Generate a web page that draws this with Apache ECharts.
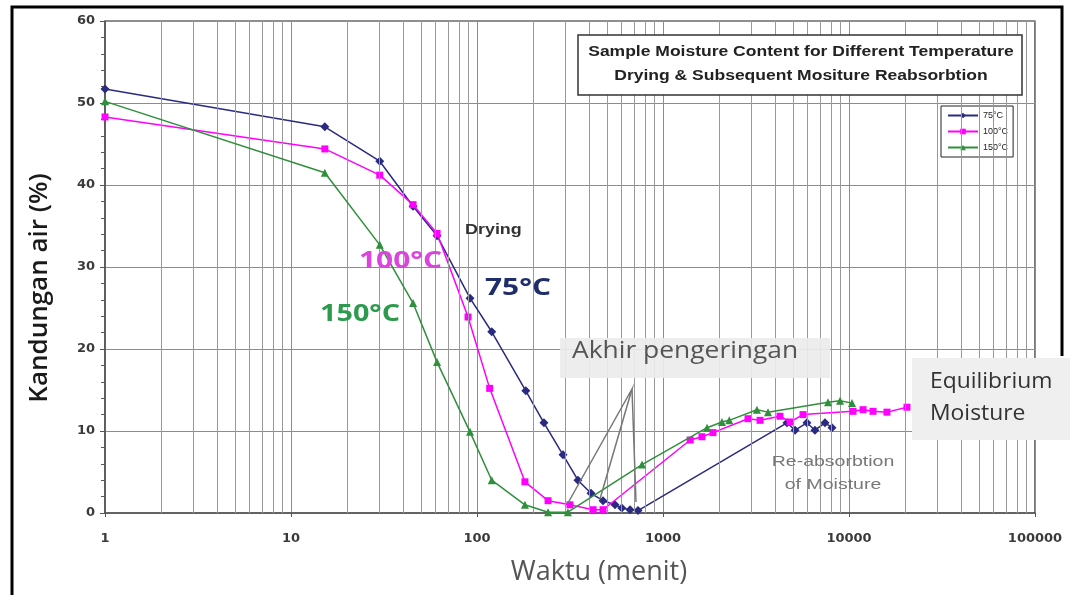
<!DOCTYPE html>
<html>
<head>
<meta charset="utf-8">
<script src="https://cdn.jsdelivr.net/npm/echarts@6/dist/echarts.min.js"></script>
<style>
  html, body { margin: 0; padding: 0; background: #fff; }
  #chart { width: 1070px; height: 595px; }
</style>
</head>
<body>
<div id="chart"></div>
<script>
// waktu (menit) dan kandungan air (%)
const waktu75 = [1, 15.2, 30, 45.3, 61, 91.7, 120, 183, 229, 290, 349, 410, 476, 552, 600, 665, 734, 4640, 5130, 5940, 6560, 7430, 8100]
const air75 = [51.7, 47.1, 42.9, 37.4, 33.8, 26.2, 22.1, 14.9, 11.0, 7.1, 4.0, 2.4, 1.5, 1.0, 0.6, 0.4, 0.3, 11.0, 10.1, 11.0, 10.1, 11.0, 10.4]

const waktu100 = [1, 15.2, 30, 45.3, 61, 89.5, 117, 181, 241, 316, 421, 476, 1400, 1620, 1857, 2865, 3325, 4256, 4818, 5660, 10510, 11900, 13460, 16000, 20500]
const air100 = [48.3, 44.4, 41.2, 37.6, 34.1, 23.9, 15.2, 3.8, 1.5, 1.0, 0.4, 0.4, 8.9, 9.3, 9.8, 11.5, 11.3, 11.8, 11.1, 12.0, 12.4, 12.6, 12.4, 12.3, 12.9]

const waktu150 = [1, 15.2, 30, 45.3, 61, 91.7, 120, 181, 241, 308, 771, 1725, 2075, 2270, 3200, 3670, 7710, 8950, 10380]
const air150 = [50.2, 41.5, 32.7, 25.6, 18.4, 9.9, 4.0, 1.0, 0.1, 0.1, 5.9, 10.4, 11.1, 11.3, 12.6, 12.3, 13.5, 13.7, 13.4]

const seriesNames = ['75°C', '100°C', '150°C']
const seriesColors = ['#2a2a80', '#ff00ff', '#2f8f3a']

// garis bantu minor sumbu log (2..9 tiap dekade)
const minorTicks = []
for (let d = 1; d < 100000; d *= 10) {
  for (let k = 2; k <= 9; k++) {
    minorTicks.push(k * d)
  }
}

const pair = (xs, ys) => xs.map((x, i) => [x, ys[i]])

let chart = echarts.init(document.getElementById('chart'))

const fontAxis = 'DejaVu Sans, sans-serif'
const fontArial = 'Liberation Sans, Arial, sans-serif'
const fontNote = 'Open Sans, Noto Sans, sans-serif'

let option = {
  animation: false,
  grid: {
    left: 105,
    right: 35,
    top: 21,
    bottom: 82,
    show: true,
    borderColor: '#222',
    borderWidth: 1.2
  },
  legend: {
    data: seriesNames,
    orient: 'vertical',
    left: 941,
    top: 106,
    itemWidth: 30,
    itemHeight: 7,
    itemGap: 7,
    padding: [5, 5, 5, 6],
    backgroundColor: '#fff',
    borderColor: '#222',
    borderWidth: 1,
    textStyle: { fontSize: 9, color: '#222', fontFamily: fontArial }
  },
  xAxis: {
    type: 'log',
    logBase: 10,
    min: 1,
    max: 100000,
    axisLine: { lineStyle: { color: '#555', width: 1.5 } },
    axisTick: { show: true, length: 4, lineStyle: { color: '#555' } },
    axisLabel: {
      margin: 19,
      fontSize: 13,
      fontWeight: 'bold',
      color: '#3a3a3a',
      fontFamily: fontAxis,
      formatter: (v) => String(Math.round(v))
    },
    splitLine: { show: true, lineStyle: { color: '#8c8c8c', width: 1 } }
  },
  yAxis: {
    type: 'value',
    min: 0,
    max: 60,
    interval: 10,
    axisLine: { show: true, lineStyle: { color: '#555', width: 1.5 } },
    axisTick: { show: true, length: 5, lineStyle: { color: '#555' } },
    minorTick: { show: true, splitNumber: 5, length: 4, lineStyle: { color: '#555' } },
    axisLabel: {
      margin: 10,
      fontSize: 13,
      fontWeight: 'bold',
      color: '#3a3a3a',
      fontFamily: fontAxis
    },
    splitLine: { show: true, lineStyle: { color: '#8c8c8c', width: 1 } }
  },
  series: [
    {
      // hanya garis grid minor
      type: 'line',
      data: [],
      silent: true,
      z: 1,
      markLine: {
        silent: true,
        symbol: 'none',
        label: { show: false },
        lineStyle: { color: '#999', width: 1, type: 'solid' },
        data: minorTicks.map(v => ({ xAxis: v }))
      }
    },
    {
      name: seriesNames[0],
      type: 'line',
      data: pair(waktu75, air75),
      symbol: 'diamond',
      symbolSize: 9,
      color: seriesColors[0],
      lineStyle: { width: 1.5 },
      z: 3
    },
    {
      name: seriesNames[1],
      type: 'line',
      data: pair(waktu100, air100),
      symbol: 'rect',
      symbolSize: 7,
      color: seriesColors[1],
      lineStyle: { width: 1.5 },
      z: 4
    },
    {
      name: seriesNames[2],
      type: 'line',
      data: pair(waktu150, air150),
      symbol: 'triangle',
      symbolSize: 8,
      color: seriesColors[2],
      lineStyle: { width: 1.5 },
      z: 5
    }
  ],
  graphic: [
    // bingkai luar gambar
    {
      type: 'polyline',
      shape: { points: [[12, 595], [12, 7], [1062, 7], [1062, 356]] },
      style: { stroke: '#000', lineWidth: 3, fill: null },
      z: 100
    },
    // nama sumbu
    {
      type: 'text', x: 40, y: 288, rotation: Math.PI / 2,
      style: {
        text: 'Kandungan air (%)', fontSize: 26, fontWeight: 600, fontFamily: fontNote,
        fill: '#1a1a1a', align: 'center', verticalAlign: 'middle'
      },
      z: 60
    },
    {
      type: 'text', x: 599, y: 572,
      style: {
        text: 'Waktu (menit)', fontSize: 27, fontFamily: fontNote,
        fill: '#555', align: 'center', verticalAlign: 'middle'
      },
      z: 60
    },
    // kotak judul
    {
      type: 'rect',
      shape: { x: 578, y: 35, width: 444, height: 60 },
      style: { fill: '#fff', stroke: '#333', lineWidth: 1.5 },
      z: 50
    },
    {
      type: 'text',
      x: 801,
      y: 40,
      scaleX: 1.25,
      style: {
        text: 'Sample Moisture Content for Different Temperature\nDrying & Subsequent Mositure Reabsorbtion',
        fontSize: 14,
        fontWeight: 'bold',
        fontFamily: fontArial,
        fill: '#222',
        align: 'center',
        lineHeight: 24
      },
      z: 51
    },
    {
      type: 'text', x: 465, y: 223, scaleX: 1.28,
      style: { text: 'Drying', fontSize: 14, fontWeight: 'bold', fontFamily: fontArial, fill: '#333' },
      z: 60
    },
    {
      type: 'text', x: 359, y: 250, scaleX: 1.3,
      style: { text: '100°C', fontSize: 23, fontWeight: 'bold', fontFamily: fontNote, fill: '#dd44dd' },
      z: 60
    },
    {
      type: 'text', x: 485, y: 277, scaleX: 1.3,
      style: { text: '75°C', fontSize: 23, fontWeight: 'bold', fontFamily: fontNote, fill: '#1f2d6b' },
      z: 60
    },
    {
      type: 'text', x: 320, y: 303, scaleX: 1.25,
      style: { text: '150°C', fontSize: 23, fontWeight: 'bold', fontFamily: fontNote, fill: '#2e9a4e' },
      z: 60
    },
    // Akhir pengeringan
    {
      type: 'rect',
      shape: { x: 560, y: 338, width: 270, height: 40 },
      style: { fill: 'rgba(236,236,236,0.92)' },
      z: 40
    },
    {
      type: 'text', x: 572, y: 339, scaleX: 1.1,
      style: { text: 'Akhir pengeringan', fontSize: 24, fontFamily: fontNote, fill: '#555' },
      z: 41
    },
    {
      type: 'polyline',
      shape: { points: [[568, 503], [632, 389], [600, 499]] },
      style: { stroke: '#777', lineWidth: 1.5, fill: null },
      z: 41
    },
    {
      type: 'line',
      shape: { x1: 632, y1: 389, x2: 636, y2: 502 },
      style: { stroke: '#777', lineWidth: 1.5 },
      z: 41
    },
    // Equilibrium Moisture
    {
      type: 'rect',
      shape: { x: 912, y: 358, width: 158, height: 82 },
      style: { fill: '#efefef' },
      z: 40
    },
    {
      type: 'text', x: 930, y: 366, scaleX: 1.09,
      style: { text: 'Equilibrium\nMoisture', fontSize: 21, fontFamily: fontNote, fill: '#333', lineHeight: 32 },
      z: 41
    },
    {
      type: 'text', x: 833, y: 450, scaleX: 1.3,
      style: {
        text: 'Re-absorbtion\nof Moisture',
        fontSize: 15,
        fontFamily: fontArial,
        fill: '#777',
        align: 'center',
        lineHeight: 23
      },
      z: 41
    }
  ]
}

chart.setOption(option)
</script>
</body>
</html>
